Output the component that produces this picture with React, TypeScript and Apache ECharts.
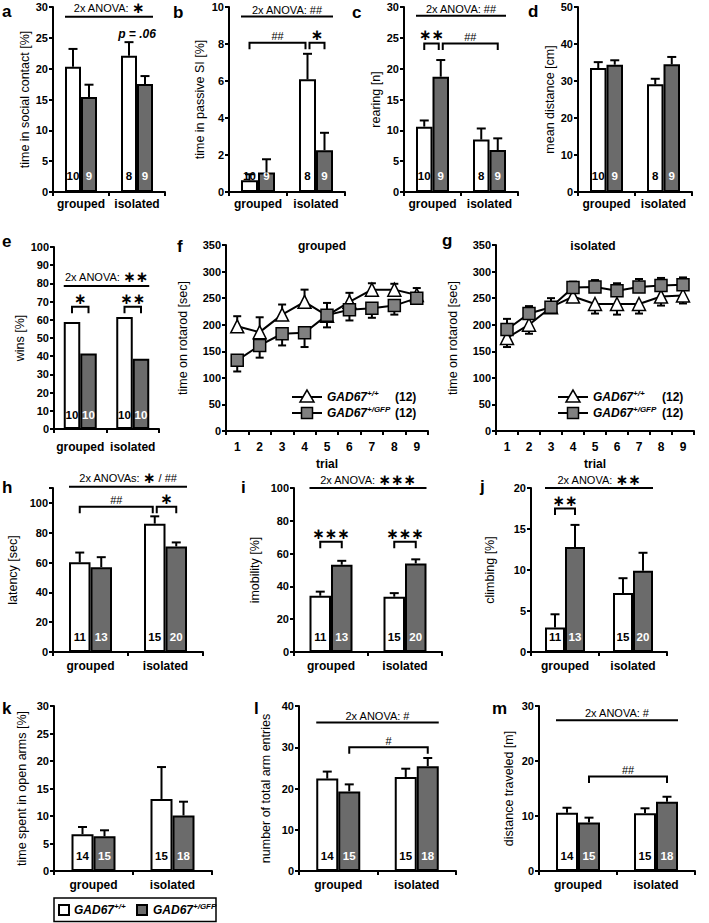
import React, { useEffect, useRef } from 'react';
import * as echarts from 'echarts';

const FONT = '"Liberation Sans", Arial, Helvetica, sans-serif';
const NARROW = '"Liberation Sans Narrow", "Liberation Sans", Arial, sans-serif';
const STAR_FONT = '"DejaVu Sans", sans-serif';
const GREY_BAR = '#6b6b6b';
const GREY_MARK = '#808080';

const CATEGORIES = ['grouped', 'isolated'];
const TRIALS = ['1', '2', '3', '4', '5', '6', '7', '8', '9'];

// a: time in social contact [%]
const aWT = [20.3, 22.1];
const aWTErr = [2.9, 2.2];
const aGFP = [15.4, 17.5];
const aGFPErr = [2.0, 1.3];
const aNWT = [10, 8];
const aNGFP = [9, 9];
// b: time in passive SI [%]
const bWT = [0.63, 6.09];
const bWTErr = [0.33, 1.38];
const bGFP = [1.05, 2.26];
const bGFPErr = [0.72, 0.94];
const bNWT = [10, 8];
const bNGFP = [9, 9];
// c: rearing [n]
const cWT = [10.6, 8.5];
const cWTErr = [1.0, 1.8];
const cGFP = [18.7, 6.8];
const cGFPErr = [2.7, 1.9];
const cNWT = [10, 8];
const cNGFP = [9, 9];
// d: mean distance [cm]
const dWT = [33.5, 29.1];
const dWTErr = [1.6, 1.5];
const dGFP = [34.4, 34.5];
const dGFPErr = [1.2, 2.0];
const dNWT = [10, 8];
const dNGFP = [9, 9];
// e: wins [%]
const eWT = [58.8, 61.6];
const eGFP = [41.5, 38.6];
const eNWT = [10, 10];
const eNGFP = [10, 10];
// f: rotarod grouped
const fWT = [197, 186, 219, 243, 217, 243, 266, 266, 256];
const fWTErr = [19, 28, 19, 23, 24, 17, 12, 11, 13];
const fGFP = [133, 161, 183, 185, 218, 228, 231, 236, 250];
const fGFPErr = [21, 23, 22, 27, 23, 20, 18, 17, 9];
// g: rotarod isolated
const gWT = [175, 200, 233, 253, 239, 239, 239, 253, 255];
const gWTErr = [17, 17, 10, 8, 18, 20, 18, 17, 15];
const gGFP = [191, 221, 233, 270, 271, 264, 271, 274, 275];
const gGFPErr = [20, 14, 17, 11, 13, 14, 15, 14, 14];
// h: latency [sec]
const hWT = [60.2, 86.1];
const hWTErr = [6.5, 4.9];
const hGFP = [56.9, 70.8];
const hGFPErr = [6.7, 2.7];
const hNWT = [11, 15];
const hNGFP = [13, 20];
// i: imobility [%]
const iWT = [34.3, 33.7];
const iWTErr = [2.5, 2.2];
const iGFP = [53.2, 54.0];
const iGFPErr = [2.4, 2.5];
const iNWT = [11, 15];
const iNGFP = [13, 20];
// j: climbing [%]
const jWT = [3.0, 7.2];
const jWTErr = [1.6, 1.8];
const jGFP = [12.8, 9.9];
const jGFPErr = [2.7, 2.2];
const jNWT = [11, 15];
const jNGFP = [13, 20];
// k: time spent in open arms [%]
const kWT = [6.7, 13.1];
const kWTErr = [1.3, 5.8];
const kGFP = [6.3, 10.1];
const kGFPErr = [1.1, 2.5];
const kNWT = [14, 15];
const kNGFP = [15, 18];
// l: number of total arm entries
const lWT = [22.4, 22.8];
const lWTErr = [1.7, 2.0];
const lGFP = [19.3, 25.4];
const lGFPErr = [1.7, 2.0];
const lNWT = [14, 15];
const lNGFP = [15, 18];
// m: distance traveled [m]
const mWT = [10.6, 10.5];
const mWTErr = [0.9, 0.9];
const mGFP = [8.8, 12.6];
const mGFPErr = [0.9, 0.9];
const mNWT = [14, 15];
const mNGFP = [15, 18];

type Anno = {
  kind: 'anova' | 'bracket' | 'text';
  y: number;
  text: string;
  c1?: number; s1?: number; d1?: number;
  c2?: number; s2?: number; d2?: number;
};

type BarPanel = {
  yName: string; yMax: number; yInterval: number; labelMax?: number;
  wt: number[]; wtErr?: number[]; gfp: number[]; gfpErr?: number[];
  nWT: number[]; nGFP: number[];
  box: number[]; bw: number; nameGap: number; labelMargin: number; nDist: number;
  tickFont?: string; annos: Anno[];
};

const S1 = '{st|∗}';
const S2 = '{st|∗∗}';
const S3 = '{st|∗∗∗}';

const BAR_PANELS: BarPanel[] = [
  {
    yName: 'time in social contact [%]', yMax: 30, yInterval: 5,
    wt: aWT, wtErr: aWTErr, gfp: aGFP, gfpErr: aGFPErr, nWT: aNWT, nGFP: aNGFP,
    box: [53, 7, 112, 185], bw: 16, nameGap: 22, labelMargin: 6, nDist: 10,
    annos: [
      { kind: 'anova', y: 28.4, text: '2x ANOVA: ' + S1 },
      { kind: 'text', y: 25.6, c1: 1, s1: 0, text: '{pi|p = .06}' },
    ],
  },
  {
    yName: 'time in passive SI [%]', yMax: 10, yInterval: 2,
    wt: bWT, wtErr: bWTErr, gfp: bGFP, gfpErr: bGFPErr, nWT: bNWT, nGFP: bNGFP,
    box: [229, 7, 116, 185], bw: 17, nameGap: 23, labelMargin: 6, nDist: 10,
    annos: [
      { kind: 'anova', y: 9.48, text: '2x ANOVA: ##' },
      { kind: 'bracket', y: 8.07, c1: 0, s1: -1, c2: 1, s2: -1, d2: -2, text: '##' },
      { kind: 'bracket', y: 8.07, c1: 1, s1: -1, d1: 2, c2: 1, s2: 1, text: S1 },
    ],
  },
  {
    yName: 'rearing [n]', yMax: 30, yInterval: 5,
    wt: cWT, wtErr: cWTErr, gfp: cGFP, gfpErr: cGFPErr, nWT: cNWT, nGFP: cNGFP,
    box: [404, 7, 114, 185], bw: 16.5, nameGap: 21, labelMargin: 6, nDist: 10,
    annos: [
      { kind: 'anova', y: 28.6, text: '2x ANOVA: ##' },
      { kind: 'bracket', y: 24.1, c1: 0, s1: -1, c2: 0, s2: 1, d2: -2, text: S2 },
      { kind: 'bracket', y: 24.1, c1: 0, s1: 1, d1: 2, c2: 1, s2: 1, text: '##' },
    ],
  },
  {
    yName: 'mean distance [cm]', yMax: 50, yInterval: 10,
    wt: dWT, wtErr: dWTErr, gfp: dGFP, gfpErr: dGFPErr, nWT: dNWT, nGFP: dNGFP,
    box: [578, 7, 114, 185], bw: 16.5, nameGap: 22, labelMargin: 6, nDist: 10,
    annos: [],
  },
  {
    yName: 'wins [%]', yMax: 100, yInterval: 10,
    wt: eWT, gfp: eGFP, nWT: eNWT, nGFP: eNGFP,
    box: [54, 247, 105, 182], bw: 16.5, nameGap: 21, labelMargin: 12, nDist: 8,
    annos: [
      { kind: 'anova', y: 78.6, text: '2x ANOVA: ' + S2 },
      { kind: 'bracket', y: 67.2, c1: 0, s1: -1, c2: 0, s2: 1, text: S1 },
      { kind: 'bracket', y: 67.2, c1: 1, s1: -1, c2: 1, s2: 1, text: S2 },
    ],
  },
  {
    yName: 'latency [sec]', yMax: 110, yInterval: 20, labelMax: 100,
    wt: hWT, wtErr: hWTErr, gfp: hGFP, gfpErr: hGFPErr, nWT: hNWT, nGFP: hNGFP,
    box: [53, 488, 150, 164], bw: 21.5, nameGap: 34, labelMargin: 8, nDist: 9,
    annos: [
      { kind: 'anova', y: 110.9, text: '2x ANOVAs: ' + S1 + ' / ##' },
      { kind: 'bracket', y: 97.5, c1: 0, s1: -1, c2: 1, s2: -1, d2: -2, text: '##' },
      { kind: 'bracket', y: 97.5, c1: 1, s1: -1, d1: 2, c2: 1, s2: 1, text: S1 },
    ],
  },
  {
    yName: 'imobility [%]', yMax: 100, yInterval: 20,
    wt: iWT, wtErr: iWTErr, gfp: iGFP, gfpErr: iGFPErr, nWT: iNWT, nGFP: iNGFP,
    box: [294, 488, 148, 164], bw: 21.5, nameGap: 33, labelMargin: 8, nDist: 9,
    annos: [
      { kind: 'anova', y: 100, text: '2x ANOVA: ' + S3 },
      { kind: 'bracket', y: 67.3, c1: 0, s1: -1, c2: 0, s2: 1, text: S3 },
      { kind: 'bracket', y: 67.3, c1: 1, s1: -1, c2: 1, s2: 1, text: S3 },
    ],
  },
  {
    yName: 'climbing [%]', yMax: 20, yInterval: 5,
    wt: jWT, wtErr: jWTErr, gfp: jGFP, gfpErr: jGFPErr, nWT: jNWT, nGFP: jNGFP,
    box: [531, 488, 136, 164], bw: 20, nameGap: 35, labelMargin: 8, nDist: 9,
    annos: [
      { kind: 'anova', y: 20, text: '2x ANOVA: ' + S2 },
      { kind: 'bracket', y: 17.5, c1: 0, s1: -1, c2: 0, s2: 1, text: S2 },
    ],
  },
  {
    yName: 'time spent in open arms [%]', yMax: 30, yInterval: 5,
    wt: kWT, wtErr: kWTErr, gfp: kGFP, gfpErr: kGFPErr, nWT: kNWT, nGFP: kNGFP,
    box: [54, 706, 158, 165], bw: 22, nameGap: 26, labelMargin: 8, nDist: 9.5, tickFont: NARROW,
    annos: [],
  },
  {
    yName: 'number of total arm entries', yMax: 40, yInterval: 10,
    wt: lWT, wtErr: lWTErr, gfp: lGFP, gfpErr: lGFPErr, nWT: lNWT, nGFP: lNGFP,
    box: [299, 706, 157, 165], bw: 22, nameGap: 27, labelMargin: 8, nDist: 9.5, tickFont: NARROW,
    annos: [
      { kind: 'anova', y: 36, text: '2x ANOVA: #' },
      { kind: 'bracket', y: 30, c1: 0, s1: 1, c2: 1, s2: 1, text: '#' },
    ],
  },
  {
    yName: 'distance traveled [m]', yMax: 30, yInterval: 10,
    wt: mWT, wtErr: mWTErr, gfp: mGFP, gfpErr: mGFPErr, nWT: mNWT, nGFP: mNGFP,
    box: [539, 706, 156, 165], bw: 22, nameGap: 24, labelMargin: 8, nDist: 9.5, tickFont: NARROW,
    annos: [
      { kind: 'anova', y: 27.4, text: '2x ANOVA: #' },
      { kind: 'bracket', y: 17.2, c1: 0, s1: 1, c2: 1, s2: 1, text: '##' },
    ],
  },
];

type LinePanel = {
  title: string; wt: number[]; wtErr: number[]; wtDir: number;
  gfp: number[]; gfpErr: number[]; gfpDir: number;
  box: number[]; titlePos: number[]; legend: number[];
};

const LINE_PANELS: LinePanel[] = [
  {
    title: 'grouped', wt: fWT, wtErr: fWTErr, wtDir: 1, gfp: fGFP, gfpErr: fGFPErr, gfpDir: -1,
    box: [226, 245, 202, 186], titlePos: [322, 246], legend: [292, 397, 395],
  },
  {
    title: 'isolated', wt: gWT, wtErr: gWTErr, wtDir: -1, gfp: gGFP, gfpErr: gGFPErr, gfpDir: 1,
    box: [496, 245, 198, 186], titlePos: [593, 246], legend: [558, 397, 662],
  },
];

const LETTERS: [string, number, number][] = [
  ['a', 2, 16], ['b', 173, 17], ['c', 352, 17], ['d', 528, 16],
  ['e', 2, 246], ['f', 177, 251], ['g', 442, 245],
  ['h', 2, 492], ['i', 241, 492], ['j', 480, 491],
  ['k', 2, 713], ['l', 254, 713], ['m', 492, 713],
];

const RICH: any = {
  st: { fontFamily: STAR_FONT, fontWeight: 'bold', fontSize: 15, lineHeight: 14 },
  pi: { fontFamily: FONT, fontWeight: 'bold', fontStyle: 'italic', fontSize: 12, lineHeight: 14 },
};

const GAD_RICH: any = {
  i: { fontFamily: FONT, fontWeight: 'bold', fontStyle: 'italic', fontSize: 12, lineHeight: 15 },
  s: { fontFamily: FONT, fontWeight: 'bold', fontStyle: 'italic', fontSize: 8, lineHeight: 9, verticalAlign: 'top' },
};

function buildOption() {
  const grid: any[] = [];
  const xAxis: any[] = [];
  const yAxis: any[] = [];
  const series: any[] = [];
  const graphic: any[] = [];

  const axisLineStyle = { color: '#000', width: 2 };
  const nameStyle = { color: '#000', fontSize: 12.5, fontFamily: FONT };

  const errSeries = (gi: number, vals: number[], errs: number[], off: number, dir: number, cap: number, z: number) => ({
    type: 'custom', xAxisIndex: gi, yAxisIndex: gi, silent: true, z,
    data: vals.map((v, i) => [i, v, errs[i]]),
    renderItem: (params: any, api: any) => {
      const i = api.value(0);
      const v = api.value(1);
      const e = api.value(2);
      const p0 = api.coord([i, v]);
      const p1 = api.coord([i, v + dir * e]);
      const x = p0[0] + off;
      return {
        type: 'group',
        children: [
          { type: 'line', shape: { x1: x, y1: p0[1], x2: x, y2: p1[1] }, style: { stroke: '#000', lineWidth: 2 } },
          { type: 'line', shape: { x1: x - cap, y1: p1[1], x2: x + cap, y2: p1[1] }, style: { stroke: '#000', lineWidth: 2 } },
        ],
      };
    },
  });

  BAR_PANELS.forEach((p) => {
    const gi = grid.length;
    const tf = p.tickFont || FONT;
    grid.push({ left: p.box[0], top: p.box[1], width: p.box[2], height: p.box[3], containLabel: false, outerBoundsMode: 'none' });
    xAxis.push({
      type: 'category', gridIndex: gi, data: CATEGORIES,
      axisLine: { show: true, lineStyle: axisLineStyle },
      axisTick: { show: true, length: 4, lineStyle: axisLineStyle },
      axisLabel: { color: '#000', fontWeight: 'bold', fontSize: 12, fontFamily: FONT, margin: p.labelMargin, interval: 0 },
      splitLine: { show: false },
    });
    yAxis.push({
      type: 'value', gridIndex: gi, min: 0, max: p.yMax, interval: p.yInterval,
      name: p.yName, nameLocation: 'middle', nameGap: p.nameGap,
      nameTextStyle: nameStyle,
      axisLine: { show: true, lineStyle: axisLineStyle },
      axisTick: { show: true, length: 4, lineStyle: axisLineStyle },
      axisLabel: {
        color: '#000', fontWeight: 'bold', fontSize: 11, fontFamily: tf, margin: 5,
        formatter: (v: number) => (p.labelMax !== undefined && v > p.labelMax ? '' : String(v)),
      },
      splitLine: { show: false },
    });
    const lab = (arr: number[], color: string) => ({
      show: true, position: 'insideBottom', distance: p.nDist,
      formatter: (x: any) => String(arr[x.dataIndex]),
      color, fontWeight: 'bold', fontSize: 11.5, fontFamily: tf,
    });
    series.push({
      type: 'bar', xAxisIndex: gi, yAxisIndex: gi, data: p.wt, barWidth: p.bw, barGap: '0%', silent: true, z: 2,
      itemStyle: { color: '#fff', borderColor: '#000', borderWidth: 2 }, label: lab(p.nWT, '#000'),
    });
    series.push({
      type: 'bar', xAxisIndex: gi, yAxisIndex: gi, data: p.gfp, barWidth: p.bw, barGap: '0%', silent: true, z: 2,
      itemStyle: { color: GREY_BAR, borderColor: '#000', borderWidth: 2 }, label: lab(p.nGFP, '#fff'),
    });
    if (p.wtErr) series.push(errSeries(gi, p.wt, p.wtErr, -p.bw / 2, 1, 4.5, 3));
    if (p.gfpErr) series.push(errSeries(gi, p.gfp, p.gfpErr, p.bw / 2, 1, 4.5, 3));
    if (p.annos.length) {
      const annos = p.annos;
      const bw = p.bw;
      series.push({
        type: 'custom', xAxisIndex: gi, yAxisIndex: gi, silent: true, z: 5,
        data: annos.map((a) => [a.c1 ?? 0, a.y]),
        renderItem: (params: any, api: any) => {
          const a = annos[params.dataIndex];
          const y = api.coord([0, a.y])[1];
          const xOf = (c: number, s: number, d: number) => api.coord([c, a.y])[0] + (s * bw) / 2 + d;
          const textStyle = (x: number, ty: number, va: string) => ({
            type: 'text', x, y: ty,
            style: { text: a.text, rich: RICH, fill: '#000', fontSize: 11, fontFamily: NARROW, align: 'center', verticalAlign: va },
          });
          if (a.kind === 'anova') {
            const x1 = xOf(0, -2, 0);
            const x2 = xOf(1, 2, 0);
            return {
              type: 'group', children: [
                { type: 'line', shape: { x1, y1: y, x2, y2: y }, style: { stroke: '#000', lineWidth: 2 } },
                textStyle((x1 + x2) / 2, y - 1.5, 'bottom'),
              ],
            };
          }
          if (a.kind === 'text') {
            return textStyle(xOf(a.c1 ?? 0, a.s1 ?? 0, a.d1 ?? 0), y, 'middle');
          }
          const x1 = xOf(a.c1 ?? 0, a.s1 ?? 0, a.d1 ?? 0);
          const x2 = xOf(a.c2 ?? 0, a.s2 ?? 0, a.d2 ?? 0);
          return {
            type: 'group', children: [
              { type: 'polyline', shape: { points: [[x1, y + 6.5], [x1, y], [x2, y], [x2, y + 6.5]] }, style: { stroke: '#000', lineWidth: 2, fill: 'none' } },
              textStyle((x1 + x2) / 2, y - 1, 'bottom'),
            ],
          };
        },
      });
    }
  });

  LINE_PANELS.forEach((p) => {
    const gi = grid.length;
    grid.push({ left: p.box[0], top: p.box[1], width: p.box[2], height: p.box[3], containLabel: false, outerBoundsMode: 'none' });
    xAxis.push({
      type: 'category', gridIndex: gi, data: TRIALS, boundaryGap: true,
      name: 'trial', nameLocation: 'middle', nameGap: 27,
      nameTextStyle: { color: '#000', fontWeight: 'bold', fontSize: 12, fontFamily: FONT },
      axisLine: { show: true, lineStyle: axisLineStyle },
      axisTick: { show: true, length: 4, lineStyle: axisLineStyle },
      axisLabel: { color: '#000', fontWeight: 'bold', fontSize: 12, fontFamily: FONT, margin: 10, interval: 0 },
      splitLine: { show: false },
    });
    yAxis.push({
      type: 'value', gridIndex: gi, min: 0, max: 350, interval: 50,
      name: 'time on rotarod [sec]', nameLocation: 'middle', nameGap: 37,
      nameTextStyle: nameStyle,
      axisLine: { show: true, lineStyle: axisLineStyle },
      axisTick: { show: true, length: 4, lineStyle: axisLineStyle },
      axisLabel: { color: '#000', fontWeight: 'bold', fontSize: 11, fontFamily: FONT, margin: 5 },
      splitLine: { show: false },
    });
    series.push(errSeries(gi, p.wt, p.wtErr, 0, p.wtDir, 4, 1));
    series.push(errSeries(gi, p.gfp, p.gfpErr, 0, p.gfpDir, 4, 1));
    series.push({
      type: 'line', xAxisIndex: gi, yAxisIndex: gi, data: p.wt, symbol: 'triangle', symbolSize: 13, showSymbol: true, silent: true, z: 3,
      lineStyle: { color: '#000', width: 2 }, itemStyle: { color: '#fff', borderColor: '#000', borderWidth: 1.5 },
    });
    series.push({
      type: 'line', xAxisIndex: gi, yAxisIndex: gi, data: p.gfp, symbol: 'rect', symbolSize: 12, showSymbol: true, silent: true, z: 4,
      lineStyle: { color: '#000', width: 2 }, itemStyle: { color: GREY_MARK, borderColor: '#000', borderWidth: 1.5 },
    });
    graphic.push({
      type: 'text', x: p.titlePos[0], y: p.titlePos[1],
      style: { text: p.title, fill: '#000', font: 'bold 12px ' + FONT, align: 'center', verticalAlign: 'middle' },
    });
    const [lx, ly, nx] = p.legend;
    const rows = [
      { y: ly, sup: '+/+', tri: true },
      { y: ly + 16, sup: '+/GFP', tri: false },
    ];
    rows.forEach((r) => {
      graphic.push({ type: 'line', shape: { x1: lx, y1: r.y, x2: lx + 30, y2: r.y }, style: { stroke: '#000', lineWidth: 2 } });
      if (r.tri) {
        graphic.push({ type: 'polygon', shape: { points: [[lx + 15, r.y - 7], [lx + 8, r.y + 5], [lx + 22, r.y + 5]] }, style: { fill: '#fff', stroke: '#000', lineWidth: 1.5 } });
      } else {
        graphic.push({ type: 'rect', shape: { x: lx + 9.5, y: r.y - 5.5, width: 11, height: 11 }, style: { fill: GREY_MARK, stroke: '#000', lineWidth: 1.5 } });
      }
      graphic.push({ type: 'text', x: lx + 35, y: r.y, style: { text: '{i|GAD67}{s|' + r.sup + '}', rich: GAD_RICH, fill: '#000', verticalAlign: 'middle' } });
      graphic.push({ type: 'text', x: nx, y: r.y, style: { text: '(12)', fill: '#000', font: 'bold 12px ' + FONT, verticalAlign: 'middle' } });
    });
  });

  LETTERS.forEach(([t, x, y]) => {
    graphic.push({ type: 'text', x, y: y + 4, style: { text: t, fill: '#000', font: 'bold 17px ' + FONT, verticalAlign: 'bottom' } });
  });

  // bottom legend
  graphic.push({ type: 'rect', shape: { x: 54, y: 898, width: 162, height: 23.5 }, style: { fill: '#fff', stroke: '#000', lineWidth: 1.5 } });
  graphic.push({ type: 'rect', shape: { x: 59, y: 905, width: 10, height: 10 }, style: { fill: '#fff', stroke: '#000', lineWidth: 2 } });
  graphic.push({ type: 'text', x: 74, y: 910, style: { text: '{i|GAD67}{s|+/+}', rich: GAD_RICH, fill: '#000', verticalAlign: 'middle' } });
  graphic.push({ type: 'rect', shape: { x: 137, y: 905, width: 10, height: 10 }, style: { fill: GREY_BAR, stroke: '#000', lineWidth: 2 } });
  graphic.push({ type: 'text', x: 153, y: 910, style: { text: '{i|GAD67}{s|+/GFP}', rich: GAD_RICH, fill: '#000', verticalAlign: 'middle' } });

  return {
    animation: false,
    backgroundColor: '#fff',
    grid, xAxis, yAxis, series, graphic,
  };
}

export default function App() {
  const ref = useRef<HTMLDivElement>(null);
  useEffect(() => {
    if (!ref.current) return;
    const chart = echarts.init(ref.current, null, { renderer: 'svg' });
    chart.setOption(buildOption() as any);
    return () => chart.dispose();
  }, []);
  return <div ref={ref} style={{ position: 'absolute', left: 0, top: 0, width: 709, height: 923, background: '#fff' }} />;
}
